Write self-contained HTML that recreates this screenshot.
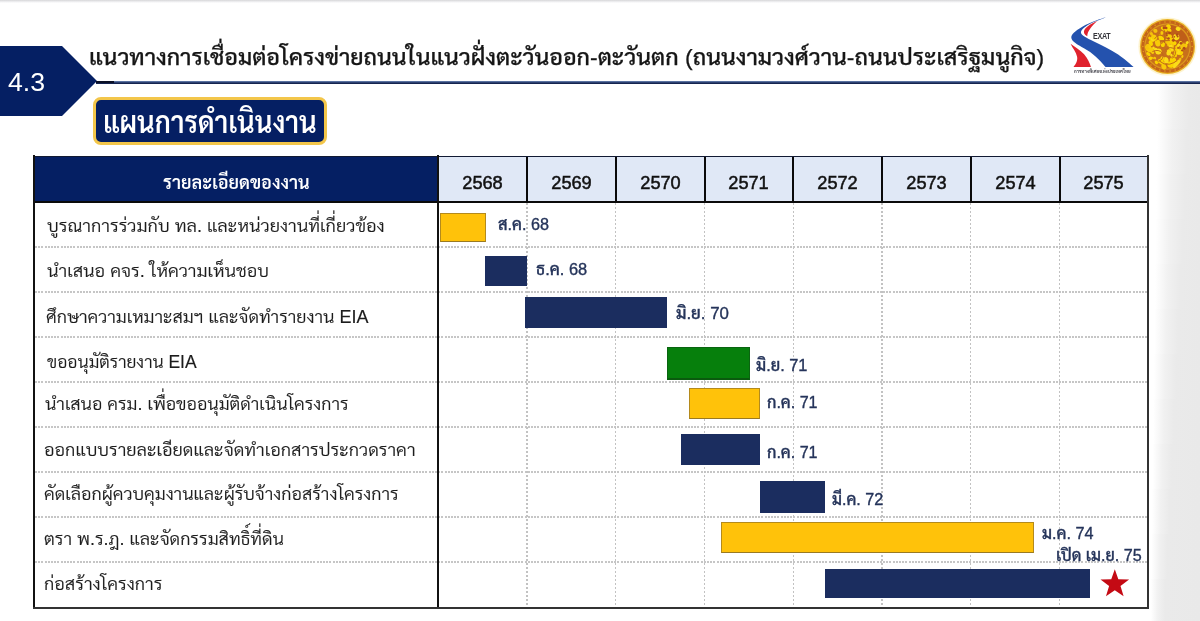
<!DOCTYPE html>
<html lang="th">
<head>
<meta charset="utf-8">
<title>4.3 แผนการดำเนินงาน</title>
<style>
html,body{margin:0;padding:0;}
body{width:1200px;height:621px;position:relative;overflow:hidden;background:#fff;
  font-family:"Liberation Sans","Sarabun","Noto Sans Thai","Loma",sans-serif;color:#222;}
.abs{position:absolute;white-space:nowrap;line-height:1;}
.clip{overflow:hidden;padding:16px 0 12px;margin-top:-16px;}
#topline{left:0;top:0;width:1200px;height:3px;background:linear-gradient(180deg,#d6d6d8,#ececee 50%,#fff);}
#badge{left:0;top:46px;width:97px;height:70px;}
#badgetxt{left:7.5px;top:69.8px;font-size:25.2px;color:#fff;transform:scaleX(1.06);transform-origin:0 0;}
#title{left:91px;top:40px;font-size:27px;font-weight:500;-webkit-text-stroke:0.25px #161616;color:#161616;transform-origin:0 0;}
#hline{left:96px;top:80.5px;width:1104px;height:3px;background:linear-gradient(180deg,#6d86b2 0%,#3a4f82 45%,#15244f 60%,#15244f 100%);}
#hline2{left:96px;top:80.5px;width:18px;height:2.5px;background:#0b1026;}
#plan{left:93px;top:97px;width:228px;height:42px;border:3px solid #f3c64a;border-radius:8px;background:#051f63;}
#plantxt{left:105px;top:103px;font-size:39px;font-weight:600;color:#fff;transform-origin:0 0;}
#thead{left:34px;top:156px;width:405px;height:46px;background:#051f63;}
#theadtxt{left:164px;top:168px;font-size:22px;font-weight:600;color:#fff;transform-origin:0 0;}
#yhead{left:439px;top:156px;width:709px;height:46px;background:#e0e8f6;}
.yr{top:174.3px;width:89px;text-align:center;font-size:18.2px;font-weight:normal;color:#111;-webkit-text-stroke:0.5px #111;}
.vl{top:156px;width:2px;height:46px;background:#0a0a0a;}
.vd{top:203px;width:1.4px;height:404px;background:repeating-linear-gradient(180deg,#c2c2c2 0,#c2c2c2 2px,rgba(255,255,255,0) 2px,rgba(255,255,255,0) 4px);}
.hd{left:35px;width:1112px;height:2px;background:repeating-linear-gradient(90deg,#c6c6c6 0,#c6c6c6 2px,rgba(255,255,255,0) 2px,rgba(255,255,255,0) 3.2px);}
.row{font-size:22px;font-weight:300;color:#1c1c1c;-webkit-text-stroke:0.15px #1c1c1c;transform-origin:0 0;}
.bar{box-sizing:border-box;}
.navy{background:#1b2d5f;}
.yellow{background:#ffc20a;border:1px solid #b48a1c;border-bottom:1.5px solid #9a7a22;}
.green{background:#067f0c;border:1px solid #0a6410;border-bottom:2px solid #0a5a0e;}
.lbl{font-size:16px;font-weight:500;color:#25345a;-webkit-text-stroke:0.35px #25345a;transform-origin:0 0;}
</style>
</head>
<body>
<div id="topline" class="abs"></div>
<div id="rstrip">
<div class="abs" style="left:1148px;top:84px;width:52px;height:45px;background:linear-gradient(90deg,rgba(255,255,255,0) 18.6%,#f1f1f1 48.7%,#eaeaea 78.7%,#e9e9e9 100%)"></div>
<div class="abs" style="left:1148px;top:129px;width:52px;height:45px;background:linear-gradient(90deg,rgba(255,255,255,0) 17.4%,#f1f1f1 46.0%,#eaeaea 74.5%,#e9e9e9 100%)"></div>
<div class="abs" style="left:1148px;top:174px;width:52px;height:45px;background:linear-gradient(90deg,rgba(255,255,255,0) 16.2%,#f1f1f1 43.3%,#eaeaea 70.4%,#e9e9e9 100%)"></div>
<div class="abs" style="left:1148px;top:219px;width:52px;height:45px;background:linear-gradient(90deg,rgba(255,255,255,0) 15.0%,#f1f1f1 40.6%,#eaeaea 66.2%,#e9e9e9 100%)"></div>
<div class="abs" style="left:1148px;top:264px;width:52px;height:45px;background:linear-gradient(90deg,rgba(255,255,255,0) 13.8%,#f1f1f1 37.9%,#eaeaea 62.0%,#e9e9e9 100%)"></div>
<div class="abs" style="left:1148px;top:309px;width:52px;height:45px;background:linear-gradient(90deg,rgba(255,255,255,0) 12.6%,#f1f1f1 35.2%,#eaeaea 57.9%,#e9e9e9 100%)"></div>
<div class="abs" style="left:1148px;top:354px;width:52px;height:45px;background:linear-gradient(90deg,rgba(255,255,255,0) 11.4%,#f1f1f1 32.6%,#eaeaea 53.7%,#e9e9e9 100%)"></div>
<div class="abs" style="left:1148px;top:399px;width:52px;height:45px;background:linear-gradient(90deg,rgba(255,255,255,0) 10.2%,#f1f1f1 29.9%,#eaeaea 49.5%,#e9e9e9 100%)"></div>
<div class="abs" style="left:1148px;top:444px;width:52px;height:45px;background:linear-gradient(90deg,rgba(255,255,255,0) 9.0%,#f1f1f1 27.2%,#eaeaea 45.4%,#e9e9e9 100%)"></div>
<div class="abs" style="left:1148px;top:489px;width:52px;height:45px;background:linear-gradient(90deg,rgba(255,255,255,0) 7.8%,#f1f1f1 24.5%,#eaeaea 41.2%,#e9e9e9 100%)"></div>
<div class="abs" style="left:1148px;top:534px;width:52px;height:45px;background:linear-gradient(90deg,rgba(255,255,255,0) 6.6%,#f1f1f1 21.8%,#eaeaea 37.0%,#e9e9e9 100%)"></div>
<div class="abs" style="left:1148px;top:579px;width:52px;height:42px;background:linear-gradient(90deg,rgba(255,255,255,0) 5.4%,#f1f1f1 19.1%,#eaeaea 32.9%,#e9e9e9 100%)"></div>
</div>

<svg id="badge" class="abs" viewBox="0 0 97 70"><polygon points="0,0 62,0 97,35 62,70 0,70" fill="#051f63"/></svg>
<div id="badgetxt" class="abs">4.3</div>
<div id="title" class="abs clip" style="left:88.86px;top:48.02px;font-size:21.5px;transform:scaleX(1.0715);width:894px">แนวทางการเชื่อมต่อโครงข่ายถนนในแนวฝั่งตะวันออก-ตะวันตก (ถนนงามวงศ์วาน-ถนนประเสริฐมนูกิจ)</div>
<div id="hline" class="abs"></div>
<div id="hline2" class="abs"></div>


<!-- EXAT logo -->
<svg id="exat" class="abs" style="left:1065px;top:10px;width:80px;height:75px" viewBox="0 0 662 621">
  <path fill="#2452ae" d="M338,60 C300,72 215,98 140,140 C85,172 52,200 52,228 C52,258 100,285 160,318 C225,352 285,410 335,472 L568,472 C545,450 500,410 440,368 C380,328 300,290 235,258 C180,232 135,210 132,188 C130,165 170,132 230,104 C270,86 310,72 338,60 Z"/>
  <path fill="#e0232e" d="M268,92 C225,108 180,135 160,165 C150,185 160,205 184,218 C184,198 192,176 208,155 C222,135 245,112 268,92 Z"/>
  <path fill="#e0232e" d="M46,280 C62,315 92,348 100,388 C106,420 90,450 70,472 L215,472 C205,440 188,402 158,366 C125,332 78,306 46,280 Z"/>
</svg>
<div id="exattxt" class="abs" style="left:1093.4px;top:31.9px;font-size:8.3px;font-weight:bold;color:#34343a;letter-spacing:-0.3px;transform:scaleX(0.86);transform-origin:0 0">EXAT</div>
<div id="exatth" class="abs" style="left:1074px;top:69.6px;font-size:4.7px;font-weight:bold;color:#4a4a52;transform-origin:0 0;transform:scaleX(0.97)">การทางพิเศษแห่งประเทศไทย</div>
<!-- emblem -->
<svg id="emblem" class="abs" style="left:1137.4px;top:15.6px;width:61px;height:61px" viewBox="-31 -31 62 62">
  <circle r="29.6" fill="#fbe7a0" opacity="0.5"/>
  <circle r="28" fill="#e9b224"/>
  <circle r="26.7" fill="#c4641a"/>
  <circle r="23.6" fill="#dc981d"/>
  <circle r="22.4" fill="#c8701b"/>
  <path d="M0,-22 A22,22 0 0 1 21,-6 L9,-2 L2,-9 Z" fill="#bd5a19" opacity="0.85"/>
  <circle cx="25.1" cy="0.0" r="0.75" fill="#e2a21e"/>
  <circle cx="24.6" cy="5.2" r="0.75" fill="#e2a21e"/>
  <circle cx="22.9" cy="10.2" r="0.75" fill="#e2a21e"/>
  <circle cx="20.3" cy="14.8" r="0.75" fill="#e2a21e"/>
  <circle cx="16.8" cy="18.7" r="0.75" fill="#e2a21e"/>
  <circle cx="12.6" cy="21.7" r="0.75" fill="#e2a21e"/>
  <circle cx="7.8" cy="23.9" r="0.75" fill="#e2a21e"/>
  <circle cx="2.6" cy="25.0" r="0.75" fill="#e2a21e"/>
  <circle cx="-2.6" cy="25.0" r="0.75" fill="#e2a21e"/>
  <circle cx="-7.8" cy="23.9" r="0.75" fill="#e2a21e"/>
  <circle cx="-12.5" cy="21.7" r="0.75" fill="#e2a21e"/>
  <circle cx="-16.8" cy="18.7" r="0.75" fill="#e2a21e"/>
  <circle cx="-20.3" cy="14.8" r="0.75" fill="#e2a21e"/>
  <circle cx="-22.9" cy="10.2" r="0.75" fill="#e2a21e"/>
  <circle cx="-24.6" cy="5.2" r="0.75" fill="#e2a21e"/>
  <circle cx="-25.1" cy="0.0" r="0.75" fill="#e2a21e"/>
  <circle cx="-24.6" cy="-5.2" r="0.75" fill="#e2a21e"/>
  <circle cx="-22.9" cy="-10.2" r="0.75" fill="#e2a21e"/>
  <circle cx="-20.3" cy="-14.8" r="0.75" fill="#e2a21e"/>
  <circle cx="-16.8" cy="-18.7" r="0.75" fill="#e2a21e"/>
  <circle cx="-12.6" cy="-21.7" r="0.75" fill="#e2a21e"/>
  <circle cx="-7.8" cy="-23.9" r="0.75" fill="#e2a21e"/>
  <circle cx="-2.6" cy="-25.0" r="0.75" fill="#e2a21e"/>
  <circle cx="2.6" cy="-25.0" r="0.75" fill="#e2a21e"/>
  <circle cx="7.8" cy="-23.9" r="0.75" fill="#e2a21e"/>
  <circle cx="12.6" cy="-21.7" r="0.75" fill="#e2a21e"/>
  <circle cx="16.8" cy="-18.7" r="0.75" fill="#e2a21e"/>
  <circle cx="20.3" cy="-14.8" r="0.75" fill="#e2a21e"/>
  <circle cx="22.9" cy="-10.2" r="0.75" fill="#e2a21e"/>
  <circle cx="24.6" cy="-5.2" r="0.75" fill="#e2a21e"/>
  <ellipse cx="7.0" cy="9.7" rx="1.4" ry="1.1" transform="rotate(14 7.0 9.7)" fill="#fad400"/>
  <ellipse cx="4.4" cy="19.5" rx="2.1" ry="1.4" transform="rotate(108 4.4 19.5)" fill="#f8cb08"/>
  <ellipse cx="-4.7" cy="-2.0" rx="2.6" ry="2.1" transform="rotate(101 -4.7 -2.0)" fill="#fad400"/>
  <ellipse cx="0.8" cy="4.6" rx="1.6" ry="1.0" transform="rotate(30 0.8 4.6)" fill="#f5c10c"/>
  <ellipse cx="-14.7" cy="-5.9" rx="1.5" ry="1.1" transform="rotate(140 -14.7 -5.9)" fill="#f8cb08"/>
  <ellipse cx="-16.3" cy="-7.0" rx="2.3" ry="2.1" transform="rotate(119 -16.3 -7.0)" fill="#f5c10c"/>
  <ellipse cx="-15.4" cy="4.7" rx="2.9" ry="1.8" transform="rotate(76 -15.4 4.7)" fill="#f8cb08"/>
  <ellipse cx="11.2" cy="-1.4" rx="2.1" ry="1.4" transform="rotate(125 11.2 -1.4)" fill="#fbdc1a"/>
  <ellipse cx="13.3" cy="-3.2" rx="2.4" ry="1.8" transform="rotate(89 13.3 -3.2)" fill="#fbdc1a"/>
  <ellipse cx="-14.2" cy="-7.8" rx="3.0" ry="2.4" transform="rotate(170 -14.2 -7.8)" fill="#fbdc1a"/>
  <ellipse cx="-0.6" cy="-5.3" rx="2.5" ry="1.8" transform="rotate(98 -0.6 -5.3)" fill="#f5c10c"/>
  <ellipse cx="-11.3" cy="16.2" rx="2.0" ry="1.6" transform="rotate(55 -11.3 16.2)" fill="#fad400"/>
  <ellipse cx="12.7" cy="13.4" rx="2.1" ry="1.3" transform="rotate(114 12.7 13.4)" fill="#f5c10c"/>
  <ellipse cx="-2.3" cy="13.1" rx="2.2" ry="1.9" transform="rotate(91 -2.3 13.1)" fill="#fbdc1a"/>
  <ellipse cx="-12.7" cy="11.8" rx="1.5" ry="1.0" transform="rotate(59 -12.7 11.8)" fill="#f8cb08"/>
  <ellipse cx="1.1" cy="-2.0" rx="1.9" ry="1.4" transform="rotate(94 1.1 -2.0)" fill="#f8cb08"/>
  <ellipse cx="-6.9" cy="14.9" rx="3.0" ry="2.4" transform="rotate(174 -6.9 14.9)" fill="#fad400"/>
  <ellipse cx="-14.6" cy="11.7" rx="1.5" ry="0.9" transform="rotate(17 -14.6 11.7)" fill="#f5c10c"/>
  <ellipse cx="-19.4" cy="7.6" rx="2.5" ry="1.5" transform="rotate(38 -19.4 7.6)" fill="#fad400"/>
  <ellipse cx="1.5" cy="5.4" rx="2.6" ry="2.2" transform="rotate(121 1.5 5.4)" fill="#fbdc1a"/>
  <ellipse cx="-14.3" cy="1.5" rx="1.5" ry="1.3" transform="rotate(122 -14.3 1.5)" fill="#fbdc1a"/>
  <ellipse cx="10.1" cy="16.2" rx="3.2" ry="2.1" transform="rotate(139 10.1 16.2)" fill="#fbdc1a"/>
  <ellipse cx="1.0" cy="-20.1" rx="2.6" ry="2.3" transform="rotate(66 1.0 -20.1)" fill="#fad400"/>
  <ellipse cx="-9.6" cy="-2.6" rx="2.6" ry="2.4" transform="rotate(102 -9.6 -2.6)" fill="#f8cb08"/>
  <ellipse cx="2.6" cy="17.9" rx="2.0" ry="2.0" transform="rotate(71 2.6 17.9)" fill="#fad400"/>
  <ellipse cx="5.0" cy="13.5" rx="2.0" ry="2.0" transform="rotate(93 5.0 13.5)" fill="#fbdc1a"/>
  <ellipse cx="4.8" cy="3.6" rx="2.0" ry="1.7" transform="rotate(156 4.8 3.6)" fill="#f5c10c"/>
  <ellipse cx="-19.1" cy="2.5" rx="2.9" ry="2.7" transform="rotate(30 -19.1 2.5)" fill="#fad400"/>
  <ellipse cx="6.3" cy="13.1" rx="2.0" ry="1.5" transform="rotate(21 6.3 13.1)" fill="#f5c10c"/>
  <ellipse cx="8.6" cy="15.7" rx="1.6" ry="1.5" transform="rotate(37 8.6 15.7)" fill="#f5c10c"/>
  <ellipse cx="-13.5" cy="-9.3" rx="3.2" ry="2.6" transform="rotate(33 -13.5 -9.3)" fill="#f8cb08"/>
  <ellipse cx="0.9" cy="-2.9" rx="1.5" ry="1.2" transform="rotate(49 0.9 -2.9)" fill="#f8cb08"/>
  <ellipse cx="4.6" cy="18.5" rx="1.9" ry="1.7" transform="rotate(83 4.6 18.5)" fill="#f8cb08"/>
  <ellipse cx="-9.3" cy="5.2" rx="3.1" ry="3.0" transform="rotate(169 -9.3 5.2)" fill="#fbdc1a"/>
  <ellipse cx="-20.1" cy="-0.2" rx="2.3" ry="2.2" transform="rotate(46 -20.1 -0.2)" fill="#fad400"/>
  <ellipse cx="2.7" cy="-16.2" rx="1.6" ry="1.3" transform="rotate(83 2.7 -16.2)" fill="#fad400"/>
  <ellipse cx="-17.0" cy="-3.3" rx="2.9" ry="2.0" transform="rotate(70 -17.0 -3.3)" fill="#fad400"/>
  <ellipse cx="3.5" cy="2.5" rx="1.4" ry="1.1" transform="rotate(156 3.5 2.5)" fill="#fad400"/>
  <ellipse cx="-16.3" cy="-12.8" rx="1.9" ry="1.5" transform="rotate(63 -16.3 -12.8)" fill="#f5c10c"/>
  <ellipse cx="-10.0" cy="-3.9" rx="3.0" ry="2.3" transform="rotate(100 -10.0 -3.9)" fill="#f8cb08"/>
  <ellipse cx="12.5" cy="6.1" rx="1.4" ry="1.3" transform="rotate(39 12.5 6.1)" fill="#fbdc1a"/>
  <ellipse cx="-12.6" cy="-16.0" rx="1.8" ry="1.8" transform="rotate(56 -12.6 -16.0)" fill="#f8cb08"/>
  <ellipse cx="15.1" cy="10.1" rx="1.6" ry="1.1" transform="rotate(110 15.1 10.1)" fill="#f8cb08"/>
  <ellipse cx="-17.2" cy="11.9" rx="2.0" ry="1.8" transform="rotate(4 -17.2 11.9)" fill="#fad400"/>
  <ellipse cx="-11.8" cy="3.1" rx="2.1" ry="1.7" transform="rotate(16 -11.8 3.1)" fill="#fbdc1a"/>
  <ellipse cx="6.2" cy="-3.5" rx="3.1" ry="2.2" transform="rotate(10 6.2 -3.5)" fill="#fad400"/>
  <ellipse cx="8.3" cy="18.2" rx="2.9" ry="2.2" transform="rotate(137 8.3 18.2)" fill="#fbdc1a"/>
  <ellipse cx="-18.2" cy="-8.6" rx="1.5" ry="1.4" transform="rotate(46 -18.2 -8.6)" fill="#fad400"/>
  <ellipse cx="12.3" cy="6.0" rx="2.6" ry="1.6" transform="rotate(56 12.3 6.0)" fill="#fbdc1a"/>
  <ellipse cx="-11.6" cy="-4.0" rx="1.8" ry="1.1" transform="rotate(61 -11.6 -4.0)" fill="#f8cb08"/>
  <ellipse cx="20.0" cy="-3.9" rx="1.7" ry="1.4" transform="rotate(135 20.0 -3.9)" fill="#fbdc1a"/>
  <ellipse cx="-4.5" cy="17.7" rx="1.7" ry="1.5" transform="rotate(64 -4.5 17.7)" fill="#fbdc1a"/>
  <ellipse cx="4.0" cy="0.5" rx="3.3" ry="2.3" transform="rotate(114 4.0 0.5)" fill="#f5c10c"/>
  <ellipse cx="-5.7" cy="-13.8" rx="2.0" ry="1.5" transform="rotate(88 -5.7 -13.8)" fill="#f8cb08"/>
  <ellipse cx="10.8" cy="-17.8" rx="2.6" ry="2.0" transform="rotate(14 10.8 -17.8)" fill="#fbdc1a"/>
  <ellipse cx="-3.4" cy="16.9" rx="1.9" ry="1.3" transform="rotate(68 -3.4 16.9)" fill="#f5c10c"/>
  <ellipse cx="-1.2" cy="14.0" rx="3.2" ry="2.3" transform="rotate(79 -1.2 14.0)" fill="#fbdc1a"/>
  <ellipse cx="4.0" cy="8.9" rx="1.5" ry="1.2" transform="rotate(51 4.0 8.9)" fill="#fbdc1a"/>
  <ellipse cx="1.7" cy="-10.3" rx="2.9" ry="2.2" transform="rotate(10 1.7 -10.3)" fill="#f8cb08"/>
  <ellipse cx="-4.0" cy="12.5" rx="1.5" ry="1.3" transform="rotate(152 -4.0 12.5)" fill="#f8cb08"/>
  <ellipse cx="-6.0" cy="11.6" rx="1.6" ry="1.0" transform="rotate(131 -6.0 11.6)" fill="#f8cb08"/>
  <ellipse cx="-1.7" cy="-16.5" rx="1.6" ry="1.5" transform="rotate(149 -1.7 -16.5)" fill="#fad400"/>
  <ellipse cx="-4.5" cy="-18.2" rx="2.6" ry="1.6" transform="rotate(34 -4.5 -18.2)" fill="#fad400"/>
  <ellipse cx="13.4" cy="4.4" rx="2.4" ry="1.9" transform="rotate(0 13.4 4.4)" fill="#f8cb08"/>
  <ellipse cx="12.8" cy="6.1" rx="3.1" ry="2.7" transform="rotate(16 12.8 6.1)" fill="#fad400"/>
  <ellipse cx="-17.9" cy="3.0" rx="3.0" ry="2.7" transform="rotate(52 -17.9 3.0)" fill="#f8cb08"/>
  <ellipse cx="-5.9" cy="-8.2" rx="3.0" ry="2.4" transform="rotate(175 -5.9 -8.2)" fill="#fad400"/>
  <ellipse cx="10.8" cy="3.3" rx="1.7" ry="1.2" transform="rotate(166 10.8 3.3)" fill="#f8cb08"/>
  <ellipse cx="-6.1" cy="17.1" rx="1.3" ry="1.1" transform="rotate(172 -6.1 17.1)" fill="#fad400"/>
  <ellipse cx="1.3" cy="6.5" rx="2.7" ry="2.1" transform="rotate(119 1.3 6.5)" fill="#fbdc1a"/>
  <ellipse cx="18.4" cy="-0.8" rx="1.9" ry="1.9" transform="rotate(4 18.4 -0.8)" fill="#fad400"/>
  <ellipse cx="10.0" cy="5.2" rx="3.3" ry="2.5" transform="rotate(53 10.0 5.2)" fill="#fbdc1a"/>
  <ellipse cx="4.8" cy="3.1" rx="1.8" ry="1.2" transform="rotate(161 4.8 3.1)" fill="#fbdc1a"/>
  <ellipse cx="3.3" cy="0.1" rx="2.2" ry="2.0" transform="rotate(106 3.3 0.1)" fill="#fbdc1a"/>
  <ellipse cx="-5.0" cy="11.3" rx="1.3" ry="1.2" transform="rotate(30 -5.0 11.3)" fill="#fbdc1a"/>
  <ellipse cx="6.8" cy="19.2" rx="2.8" ry="2.1" transform="rotate(100 6.8 19.2)" fill="#fbdc1a"/>
  <ellipse cx="9.0" cy="-9.6" rx="3.2" ry="3.0" transform="rotate(71 9.0 -9.6)" fill="#fbdc1a"/>
  <ellipse cx="3.4" cy="-5.8" rx="3.2" ry="3.1" transform="rotate(111 3.4 -5.8)" fill="#f8cb08"/>
  <ellipse cx="5.5" cy="14.0" rx="3.2" ry="3.0" transform="rotate(161 5.5 14.0)" fill="#fad400"/>
  <ellipse cx="8.3" cy="4.6" rx="2.1" ry="1.8" transform="rotate(73 8.3 4.6)" fill="#f8cb08"/>
  <ellipse cx="-7.5" cy="4.4" rx="1.8" ry="1.4" transform="rotate(61 -7.5 4.4)" fill="#fbdc1a"/>
  <ellipse cx="-10.8" cy="-4.1" rx="1.6" ry="1.0" transform="rotate(128 -10.8 -4.1)" fill="#f8cb08"/>
  <ellipse cx="-20.0" cy="0.4" rx="3.1" ry="2.4" transform="rotate(140 -20.0 0.4)" fill="#f5c10c"/>
  <ellipse cx="7.8" cy="5.0" rx="1.5" ry="1.1" transform="rotate(145 7.8 5.0)" fill="#f8cb08"/>
  <ellipse cx="9.4" cy="1.2" rx="2.1" ry="1.6" transform="rotate(86 9.4 1.2)" fill="#f8cb08"/>
  <ellipse cx="-18.2" cy="0.2" rx="2.0" ry="1.3" transform="rotate(63 -18.2 0.2)" fill="#f8cb08"/>
  <ellipse cx="-7.9" cy="-10.3" rx="1.9" ry="1.3" transform="rotate(108 -7.9 -10.3)" fill="#fad400"/>
  <ellipse cx="16.1" cy="0.0" rx="3.2" ry="3.1" transform="rotate(63 16.1 0.0)" fill="#f5c10c"/>
  <ellipse cx="3.0" cy="18.3" rx="3.2" ry="3.2" transform="rotate(179 3.0 18.3)" fill="#fad400"/>
  <ellipse cx="1.6" cy="-16.8" rx="2.4" ry="1.4" transform="rotate(32 1.6 -16.8)" fill="#fad400"/>
  <ellipse cx="8.0" cy="8.3" rx="2.6" ry="1.6" transform="rotate(76 8.0 8.3)" fill="#fad400"/>
  <ellipse cx="-13.2" cy="-7.6" rx="1.7" ry="1.1" transform="rotate(77 -13.2 -7.6)" fill="#fad400"/>
  <ellipse cx="-3.7" cy="20.6" rx="3.0" ry="2.4" transform="rotate(60 -3.7 20.6)" fill="#f8cb08"/>
  <ellipse cx="15.3" cy="2.8" rx="2.6" ry="1.6" transform="rotate(127 15.3 2.8)" fill="#fad400"/>
  <ellipse cx="-11.9" cy="-15.8" rx="1.8" ry="1.7" transform="rotate(58 -11.9 -15.8)" fill="#f5c10c"/>
  <circle cx="13.7" cy="-3.2" r="1.4" fill="#b04c17"/>
  <circle cx="7.0" cy="-9.8" r="0.8" fill="#b04c17"/>
  <circle cx="10.7" cy="1.4" r="0.9" fill="#b04c17"/>
  <circle cx="2.1" cy="-13.9" r="1.4" fill="#b04c17"/>
  <circle cx="6.2" cy="-6.2" r="1.0" fill="#b04c17"/>
  <circle cx="-1.3" cy="-18.8" r="1.3" fill="#b04c17"/>
  <circle cx="15.1" cy="3.9" r="1.2" fill="#b04c17"/>
  <circle cx="-3.7" cy="-18.7" r="1.3" fill="#b04c17"/>
  <circle cx="-3.8" cy="-18.8" r="0.8" fill="#b04c17"/>
  <circle cx="9.6" cy="-12.1" r="1.4" fill="#b04c17"/>
  <circle cx="5.8" cy="-6.3" r="1.4" fill="#b04c17"/>
  <circle cx="-0.6" cy="-11.2" r="0.9" fill="#b04c17"/>
  <circle cx="1.0" cy="-8.1" r="1.3" fill="#b04c17"/>
  <circle cx="10.3" cy="-10.2" r="1.0" fill="#b04c17"/>
  <circle cx="16.9" cy="1.9" r="1.6" fill="#b04c17"/>
  <circle cx="-0.9" cy="-13.3" r="0.9" fill="#b04c17"/>
  <g fill="none" stroke="#c06a1a" stroke-width="1" stroke-linecap="round"><path d="M-13,-8 q4,-6 9,-2 q3,4 -2,7"/><path d="M-15,5 q6,-3 10,2 q2,6 -4,8"/><path d="M-2,3 q5,-4 9,0 q3,5 -2,9"/><path d="M-8,15 q4,4 10,3 q5,-1 8,-4"/><path d="M-3,-16 l0,12 M-7,-6 l9,0"/></g>
</svg>
<div id="plan" class="abs"></div>
<div id="plantxt" class="abs clip" style="left:103.18px;top:107.5px;font-size:30px;transform:scaleX(0.9113);width:238px">แผนการดำเนินงาน</div>

<!-- table -->
<div id="thead" class="abs"></div>
<div id="theadtxt" class="abs clip" style="left:163.01px;top:174.44px;font-size:18.3px;transform:scaleX(0.9864);width:152px">รายละเอียดของงาน</div>
<div id="yhead" class="abs"></div>
<div class="abs yr" style="left:438px">2568</div>
<div class="abs yr" style="left:527px">2569</div>
<div class="abs yr" style="left:616px">2570</div>
<div class="abs yr" style="left:704px">2571</div>
<div class="abs yr" style="left:793px">2572</div>
<div class="abs yr" style="left:882px">2573</div>
<div class="abs yr" style="left:971px">2574</div>
<div class="abs yr" style="left:1059px">2575</div>

<div class="abs hd" style="top:245.60px"></div>
<div class="abs hd" style="top:290.60px"></div>
<div class="abs hd" style="top:335.60px"></div>
<div class="abs hd" style="top:380.60px"></div>
<div class="abs hd" style="top:425.60px"></div>
<div class="abs hd" style="top:470.60px"></div>
<div class="abs hd" style="top:515.60px"></div>
<div class="abs hd" style="top:560.60px"></div>
<div class="abs vd" style="left:526.25px"></div>
<div class="abs vd" style="left:615.00px"></div>
<div class="abs vd" style="left:703.75px"></div>
<div class="abs vd" style="left:792.50px"></div>
<div class="abs vd" style="left:881.25px"></div>
<div class="abs vd" style="left:970.00px"></div>
<div class="abs vd" style="left:1058.75px"></div>
<div class="abs vl" style="left:526.00px"></div>
<div class="abs vl" style="left:614.75px"></div>
<div class="abs vl" style="left:703.50px"></div>
<div class="abs vl" style="left:792.25px"></div>
<div class="abs vl" style="left:881.00px"></div>
<div class="abs vl" style="left:969.75px"></div>
<div class="abs vl" style="left:1058.50px"></div>
<div class="abs" style="left:33px;top:155.5px;width:1115.5px;height:1.5px;background:#111a33"></div>
<div class="abs" style="left:33px;top:200.5px;width:1115.5px;height:2px;background:#0a0a0a"></div>
<div class="abs" style="left:33px;top:155px;width:2px;height:454px;background:#111"></div>
<div class="abs" style="left:437.25px;top:155px;width:2px;height:454px;background:#111"></div>
<div class="abs" style="left:1146.5px;top:155px;width:2px;height:454px;background:#333"></div>
<div class="abs" style="left:33px;top:607px;width:1115.5px;height:2px;background:#333"></div>
<div class="abs row clip" id="r1" style="left:47.0px;top:218.03px;font-size:17.5px;transform:scaleX(1.0402);width:328px">บูรณาการร่วมกับ ทล. และหน่วยงานที่เกี่ยวข้อง</div>
<div class="abs row clip" id="r2" style="left:47.0px;top:263.02px;font-size:17.5px;transform:scaleX(1.0376);width:217px">นำเสนอ คจร. ให้ความเห็นชอบ</div>
<div class="abs row clip" id="r3" style="left:45.97px;top:308.52px;font-size:17.5px;transform:scaleX(1.028);width:317px">ศึกษาความเหมาะสมฯ และจัดทำรายงาน EIA</div>
<div class="abs row clip" id="r4" style="left:47.0px;top:353.88px;font-size:17.5px;transform:scaleX(1.0);width:153px">ขออนุมัติรายงาน EIA</div>
<div class="abs row clip" id="r5" style="left:45.0px;top:396.38px;font-size:17.5px;transform:scaleX(1.0236);width:300px">นำเสนอ ครม. เพื่อขออนุมัติดำเนินโครงการ</div>
<div class="abs row clip" id="r6" style="left:43.96px;top:442.12px;font-size:17.5px;transform:scaleX(1.0358);width:362px">ออกแบบรายละเอียดและจัดทำเอกสารประกวดราคา</div>
<div class="abs row clip" id="r7" style="left:43.97px;top:485.62px;font-size:17.5px;transform:scaleX(1.0277);width:348px">คัดเลือกผู้ควบคุมงานและผู้รับจ้างก่อสร้างโครงการ</div>
<div class="abs row clip" id="r8" style="left:43.97px;top:530.62px;font-size:17.5px;transform:scaleX(1.0303);width:236px">ตรา พ.ร.ฎ. และจัดกรรมสิทธิ์ที่ดิน</div>
<div class="abs row clip" id="r9" style="left:43.96px;top:575.62px;font-size:17.5px;transform:scaleX(1.0357);width:117px">ก่อสร้างโครงการ</div>
<div class="abs bar yellow" style="left:440.4px;top:213.2px;width:45.4px;height:28.9px"></div>
<div class="abs bar navy" style="left:485px;top:256.2px;width:42.1px;height:29.6px"></div>
<div class="abs bar navy" style="left:525px;top:297px;width:142.00px;height:30.50px"></div>
<div class="abs bar green" style="left:667px;top:347px;width:82.50px;height:32.50px"></div>
<div class="abs bar yellow" style="left:689px;top:388px;width:71.00px;height:31.00px"></div>
<div class="abs bar navy" style="left:681px;top:434px;width:79.00px;height:31.00px"></div>
<div class="abs bar navy" style="left:760px;top:481px;width:65.00px;height:32.00px"></div>
<div class="abs bar yellow" style="left:721px;top:522px;width:312.6px;height:30.50px"></div>
<div class="abs bar navy" style="left:825px;top:569px;width:265.00px;height:28.50px"></div>
<div class="abs lbl clip" id="l1" style="left:497.76px;top:215.65px;font-size:16.3px;transform:scaleX(0.9949);width:54px">ส.ค. 68</div>
<div class="abs lbl clip" id="l2" style="left:536.49px;top:261.14px;font-size:16.3px;transform:scaleX(1.0102);width:54px">ธ.ค. 68</div>
<div class="abs lbl clip" id="l3" style="left:675.67px;top:304.75px;font-size:16.3px;transform:scaleX(1.0347);width:54px">มิ.ย. 70</div>
<div class="abs lbl clip" id="l4" style="left:755.89px;top:356.75px;font-size:16.3px;transform:scaleX(1.0061);width:54px">มิ.ย. 71</div>
<div class="abs lbl clip" id="l5" style="left:767.01px;top:393.94px;font-size:16.3px;transform:scaleX(0.9898);width:54px">ก.ค. 71</div>
<div class="abs lbl clip" id="l6" style="left:767.01px;top:443.94px;font-size:16.3px;transform:scaleX(0.9898);width:54px">ก.ค. 71</div>
<div class="abs lbl clip" id="l7" style="left:831.51px;top:491.14px;font-size:16.3px;transform:scaleX(0.99);width:55px">มี.ค. 72</div>
<div class="abs lbl clip" id="l8" style="left:1042.0px;top:525.14px;font-size:16.3px;transform:scaleX(0.996);width:55px">ม.ค. 74</div>
<div class="abs lbl clip" id="l9" style="left:1055.81px;top:546.94px;font-size:16.3px;transform:scaleX(0.9906);width:89px">เปิด เม.ย. 75</div>
<svg class="abs" style="left:1098.2px;top:567.6px;width:33.6px;height:31.2px" viewBox="-14 -13.5 28 26"><polygon fill="#c40a14" points="0,-12.5 2.95,-4.05 11.9,-3.85 4.75,1.55 7.35,10.1 0,5 -7.35,10.1 -4.75,1.55 -11.9,-3.85 -2.95,-4.05"/></svg>
</body>
</html>
